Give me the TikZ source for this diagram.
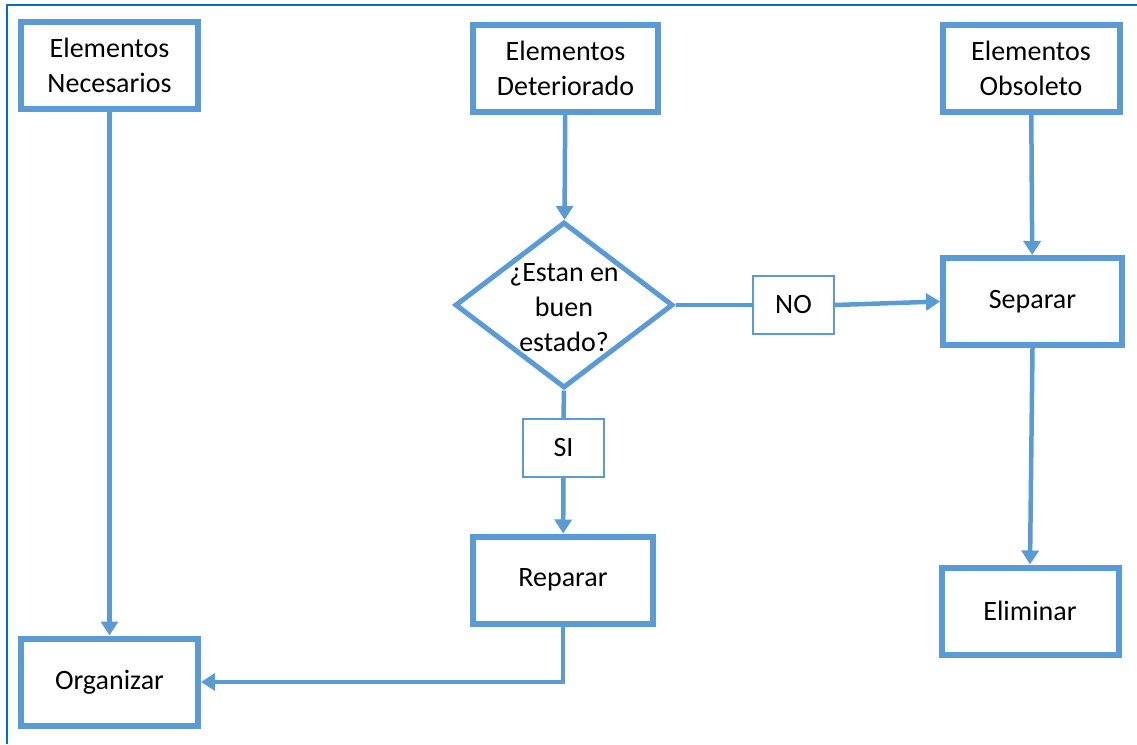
\documentclass[tikz,border=0pt]{standalone}
\usepackage{fontspec}
\setmainfont{Carlito}
\usepackage{tikz}
\usetikzlibrary{arrows.meta,shapes.geometric}
\definecolor{boxblue}{HTML}{5B9BD5}
\definecolor{frameblue}{HTML}{0070C0}
\tikzset{
  bigbox/.style={draw=boxblue, line width=6pt, minimum width=177pt, minimum height=87pt, align=center, inner sep=2pt},
  smallbox/.style={draw=boxblue, line width=2.2pt, minimum width=81pt, minimum height=58pt},
  decision/.style={draw=boxblue, diamond, line width=5pt, minimum width=218pt, minimum height=166pt, inner sep=0pt},
  flow/.style={draw=boxblue, line width=4.5pt, -{Triangle[width=17pt,length=14pt]}},
  link/.style={draw=boxblue, line width=4.5pt}
}

\begin{document}
\begin{tikzpicture}[x=1pt, y=-1pt, font=\fontsize{28}{35}\selectfont]
    \useasboundingbox (0,0) rectangle (1137,744);
    % frame
    \draw[frameblue, line width=2.5pt] (7,744) -- (7,5) -- (1137,5);

    \node[bigbox] (nec) at (109.5,65) {Elementos\\Necesarios};
    \node[bigbox, minimum width=185pt] (det) at (565.5,68) {Elementos\\Deteriorado};
    \node[bigbox] (obs) at (1031,68) {Elementos\\Obsoleto};

    \node[decision] (dec) at (564,305) {};
    \node[align=center, inner sep=0pt] (dectext) at (564,308) {¿Estan en\\buen\\estado?};

    \node[smallbox] (no) at (793.5,305) {NO};
    \node[smallbox] (si) at (563.5,448) {SI};

    \node[bigbox, minimum width=179pt] (sep) at (1032.5,301.5) {Separar};
    \node[bigbox, minimum width=180pt] (rep) at (563,580) {Reparar};
    \node[bigbox] (elim) at (1030,611) {Eliminar};
    \node[bigbox] (org) at (109.5,682) {Organizar};

    \draw[flow] (nec) -- (org);
    \draw[flow] (det) -- (dec);
    \draw[link] (dec.east) -- (no.west);
    \draw[flow] (no.east) -- (sep.west);
    \draw[link] (dec.south) -- (si.north);
    \draw[flow] (si) -- (rep);
    \draw[flow] (rep.south) |- (org.east);
    \draw[flow] (obs) -- (sep);
    \draw[flow] (sep.south) -- (elim.north);
\end{tikzpicture}
\end{document}
